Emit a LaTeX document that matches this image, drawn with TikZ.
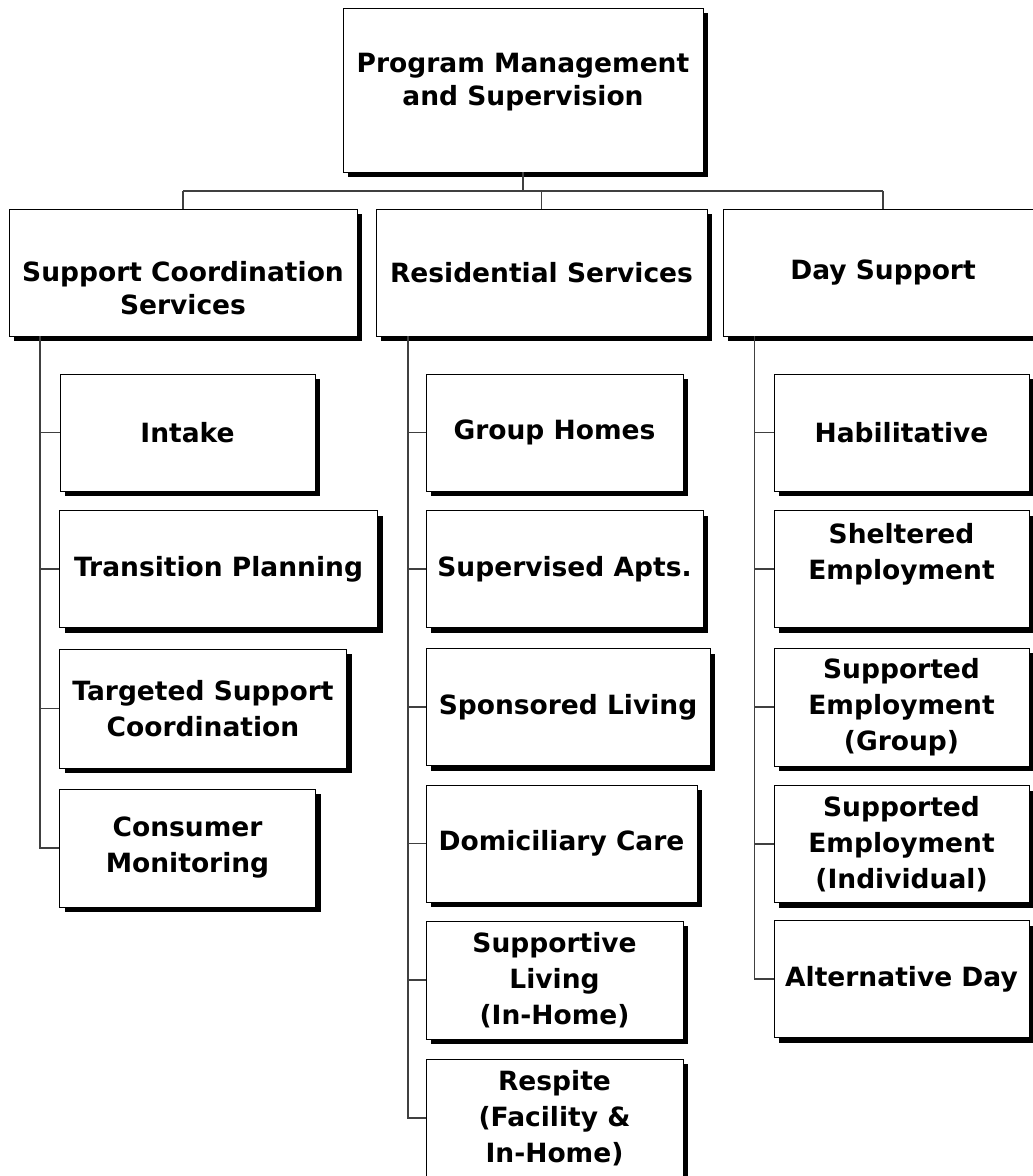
\documentclass[tikz,border=0pt]{standalone}
\usepackage{fontspec}
\setmainfont{DejaVu Sans}
\usetikzlibrary{shadows}
\tikzset{
  box/.style={draw=black, line width=0.8pt, fill=white, align=center, inner sep=0pt,
    font=\fontsize{26.5}{33}\selectfont\bfseries,
    drop shadow={shadow xshift=5pt, shadow yshift=-5pt, opacity=1, fill=black}},
  lvl/.style={box, minimum height=127},
  child/.style={box, minimum height=117, font=\fontsize{26.5}{36}\selectfont\bfseries},
  conn/.style={draw=black!75, line width=1.3pt}
}
\begin{document}
\begin{tikzpicture}[x=1pt,y=-1pt]
\useasboundingbox (0,0) rectangle (1033,1176);
\fill[white] (0,0) rectangle (1033,1176);
% top
\node[box, minimum width=360, minimum height=164] (top) at (523,90) {Program Management\\and Supervision\\[-11pt]\mbox{}};
% level 2
\node[lvl, minimum width=348] (scs) at (183,272.5) {\mbox{}\\[18pt]Support Coordination\\Services};
\node[lvl, minimum width=331] (res) at (541.5,272.5) {Residential Services};
\node[lvl, minimum width=320] (day) at (883,272.5) {Day Support};
% support coordination children
\node[child, minimum width=255] (s1) at (187.5,432.5) {Intake};
\node[child, minimum width=318] (s2) at (218.5,569) {Transition Planning};
\node[child, minimum width=287, minimum height=119] (s3) at (203,708.5) {Targeted Support\\Coordination};
\node[child, minimum width=256, minimum height=118] (s4) at (187.5,848) {Consumer\\Monitoring};
% residential children
\node[child, minimum width=257] (r1) at (554.5,432.5) {Group Homes};
\node[child, minimum width=277] (r2) at (564.5,569) {Supervised Apts.};
\node[child, minimum width=284] (r3) at (568,707) {Sponsored Living};
\node[child, minimum width=271] (r4) at (561.5,843.5) {Domiciliary Care};
\node[child, minimum width=257, minimum height=118] (r5) at (554.5,980) {Supportive\\Living\\(In-Home)};
\node[child, minimum width=257, minimum height=118] (r6) at (554.5,1118) {Respite\\(Facility \&\\In-Home)};
% day support children
\node[child, minimum width=255] (d1) at (901.5,432.5) {Habilitative};
\node[child, minimum width=255] (d2) at (901.5,569) {Sheltered\\Employment\\\mbox{}};
\node[child, minimum width=255, minimum height=118] (d3) at (901.5,707) {Supported\\Employment\\(Group)};
\node[child, minimum width=255] (d4) at (901.5,844) {Supported\\Employment\\(Individual)};
\node[child, minimum width=255] (d5) at (901.5,979) {Alternative Day};
% bus
\coordinate (busL) at (183,191);
\coordinate (busR) at (883,191);
\draw[conn] (top.south) -- (top.south |- busL);
\draw[conn] (busL) -- (busR);
\draw[conn] (busL) -- (scs.north);
\draw[conn] (res.north |- busL) -- (res.north);
\draw[conn] (busR) -- (day.north);
% trunks
\coordinate (ts) at (40,336);
\coordinate (tr) at (408,336);
\coordinate (td) at (754.5,336);
\draw[conn] (ts) |- (s4.west);
\foreach \n in {s1,s2,s3} \draw[conn] (\n.west) -- (\n.west -| ts);
\draw[conn] (tr) |- (r6.west);
\foreach \n in {r1,r2,r3,r4,r5} \draw[conn] (\n.west) -- (\n.west -| tr);
\draw[conn] (td) |- (d5.west);
\foreach \n in {d1,d2,d3,d4} \draw[conn] (\n.west) -- (\n.west -| td);
\end{tikzpicture}
\end{document}
